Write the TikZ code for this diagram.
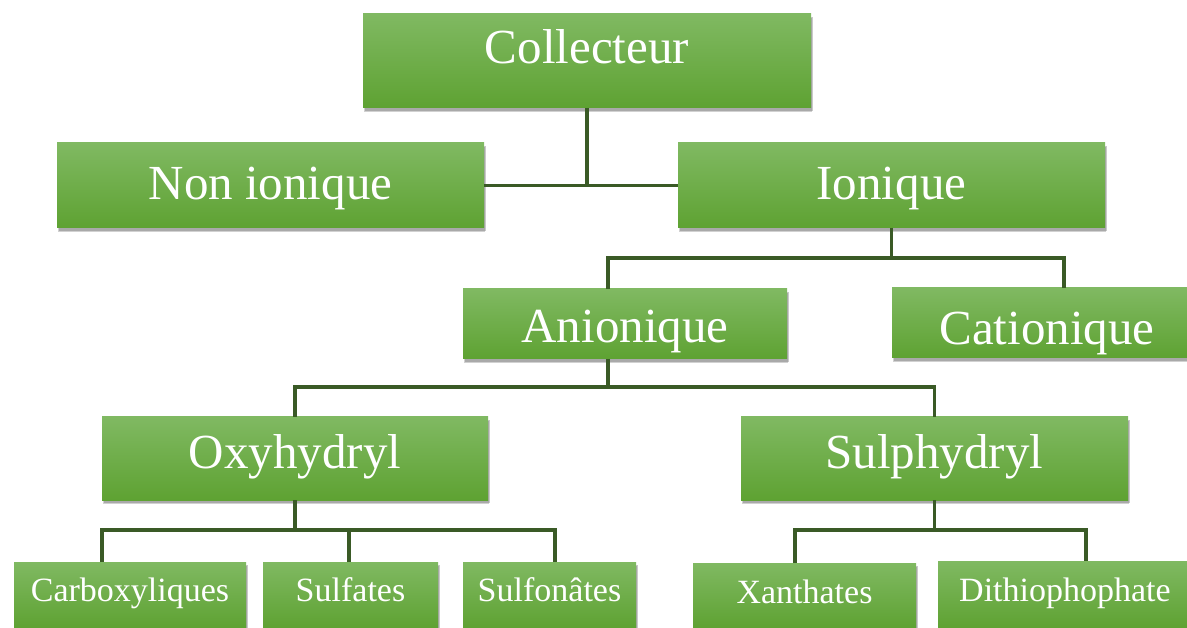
\documentclass[tikz,border=0pt]{standalone}
\usepackage{fontspec}
\setmainfont{Liberation Serif}
\usetikzlibrary{shadows}
\definecolor{gtop}{RGB}{128,185,98}
\definecolor{gbot}{RGB}{94,162,50}
\definecolor{conncol}{RGB}{58,90,38}
\tikzset{
  gbox/.style={rectangle, anchor=north west, inner sep=0pt, outer sep=0pt,
    top color=gtop, bottom color=gbot, text=white,
    general shadow={shadow xshift=1pt, shadow yshift=-4pt, opacity=0.18, fill=black},
    drop shadow={shadow xshift=2pt, shadow yshift=-3pt, opacity=0.3, fill=black!70}},
  bigtxt/.style={font=\fontsize{49}{52}\selectfont},
  smalltxt/.style={font=\fontsize{34}{36}\selectfont},
  conn/.style={draw=conncol, line width=3.2pt}
}
\begin{document}
\begin{tikzpicture}[x=1pt,y=-1pt]
\useasboundingbox (0,0) rectangle (1187,628);
% level 0
\node[gbox,bigtxt,minimum width=448pt,text height=50pt,text depth=44pt] (col) at (363,14) {Collecteur};
% level 1
\node[gbox,bigtxt,minimum width=427pt,text height=57pt,text depth=28pt] (non) at (57,143) {Non ionique};
\node[gbox,bigtxt,minimum width=427pt,text height=57pt,text depth=28pt] (ion) at (678,143) {Ionique};
% level 2
\node[gbox,bigtxt,minimum width=324pt,text height=54pt,text depth=16pt] (ani) at (463,289) {Anionique};
\node[gbox,bigtxt,minimum width=344pt,text height=57pt,text depth=13pt] (cat) at (892,288) {Cationique\hspace*{34pt}};
% level 3
\node[gbox,bigtxt,minimum width=386pt,text height=51pt,text depth=32pt] (oxy) at (102,417) {Oxyhydryl};
\node[gbox,bigtxt,minimum width=387pt,text height=51pt,text depth=32pt] (sul) at (741,417) {Sulphydryl};
% level 4
\node[gbox,smalltxt,minimum width=232pt,text height=39pt,text depth=27pt] (carb) at (14,562) {Carboxyliques};
\node[gbox,smalltxt,minimum width=175pt,text height=39pt,text depth=27pt] (sulf) at (263,562) {Sulfates};
\node[gbox,smalltxt,minimum width=173pt,text height=39pt,text depth=27pt] (sulfo) at (463,562) {Sulfonâtes};
\node[gbox,smalltxt,minimum width=223pt,text height=40pt,text depth=25pt] (xan) at (693,563) {Xanthates};
\node[gbox,smalltxt,minimum width=296pt,text height=40pt,text depth=27pt] (dit) at (938,561) {Dithiophophate\hspace*{42pt}};
% connectors
\draw[conn] (col.south) -- (col.south |- non.east);
\draw[conn] (non.east) -- (ion.west);
\draw[conn] (ion.south) -- ++(0,30) coordinate (j1);
\draw[conn] ([xshift=145pt]ani.north west) |- (j1) -| (cat.north);
\draw[conn] ([xshift=145pt]ani.south west) -- ++(0,28) coordinate (j2);
\draw[conn] (oxy.north) |- (j2) -| (sul.north);
\draw[conn] (oxy.south) -- ++(0,30) coordinate (j3);
\draw[conn] ([xshift=88pt]carb.north west) |- (j3) -| ([xshift=92pt]sulfo.north west);
\draw[conn] ([xshift=86pt]sulf.north west) -- ([xshift=86pt]sulf.north west |- j3);
\draw[conn] (sul.south) -- ++(0,30) coordinate (j4);
\draw[conn] ([xshift=102pt]xan.north west) |- (j4) -| (dit.north);
\end{tikzpicture}
\end{document}
